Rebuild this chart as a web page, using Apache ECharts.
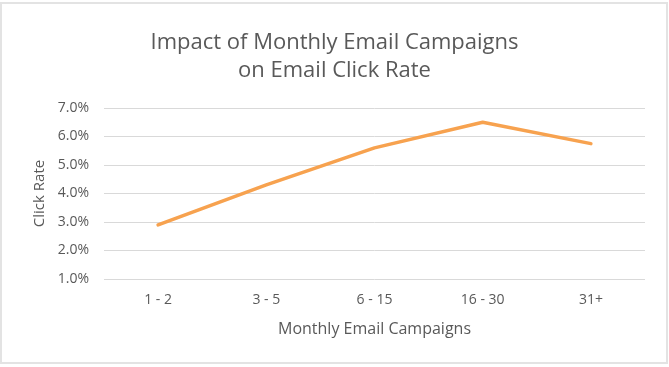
<!DOCTYPE html>
<html><head><meta charset="utf-8">
<script src="https://cdn.jsdelivr.net/npm/echarts@6/dist/echarts.min.js"></script>
<style>html,body{margin:0;padding:0;background:#fff}#c{width:669px;height:367px}</style>
</head><body><div id="c"></div>
<script>
const categories = ['1 - 2', '3 - 5', '6 - 15', '16 - 30', '31+'];
const clickRate = [2.9, 4.3, 5.6, 6.5, 5.75];
const yTicks = [1, 7, 1]; // min, max, interval

const chart = echarts.init(document.getElementById('c'));
const font = '"Open Sans", "Liberation Sans", sans-serif';
chart.setOption({
  animation: false,
  backgroundColor: '#fff',
  graphic: [{
    type: 'rect', shape: {x: 1, y: 3, width: 666, height: 360},
    style: {fill: 'none', stroke: '#e3e3e3', lineWidth: 2}
  }],
  title: {
    text: 'Impact of Monthly Email Campaigns\non Email Click Rate',
    left: 'center', top: 24,
    textStyle: {fontFamily: font, fontSize: 22, fontWeight: 'normal', color: '#595959', lineHeight: 28}
  },
  grid: {left: 104, right: 24, top: 108, bottom: 88},
  xAxis: {
    type: 'category', data: categories, boundaryGap: true,
    axisLine: {show: false}, axisTick: {show: false},
    axisLabel: {fontFamily: font, fontSize: 14, color: '#595959', margin: 14},
    name: 'Monthly Email Campaigns', nameLocation: 'middle', nameGap: 42,
    nameTextStyle: {fontFamily: font, fontSize: 16, color: '#595959'}
  },
  yAxis: {
    type: 'value', min: yTicks[0], max: yTicks[1], interval: yTicks[2],
    axisLine: {show: false}, axisTick: {show: false},
    splitLine: {lineStyle: {color: '#d9d9d9', width: 1}},
    axisLabel: {fontFamily: font, fontSize: 14, color: '#595959', margin: 15,
      formatter: v => v.toFixed(1) + '%'},
    name: 'Click Rate', nameLocation: 'middle', nameGap: 56, nameRotate: 90,
    nameTextStyle: {fontFamily: font, fontSize: 15, color: '#595959'}
  },
  series: [{
    type: 'line', data: clickRate, symbol: 'none',
    lineStyle: {color: '#F7A24F', width: 3.5, cap: 'round'},
    itemStyle: {color: '#F7A24F'}
  }]
});
</script></body></html>
